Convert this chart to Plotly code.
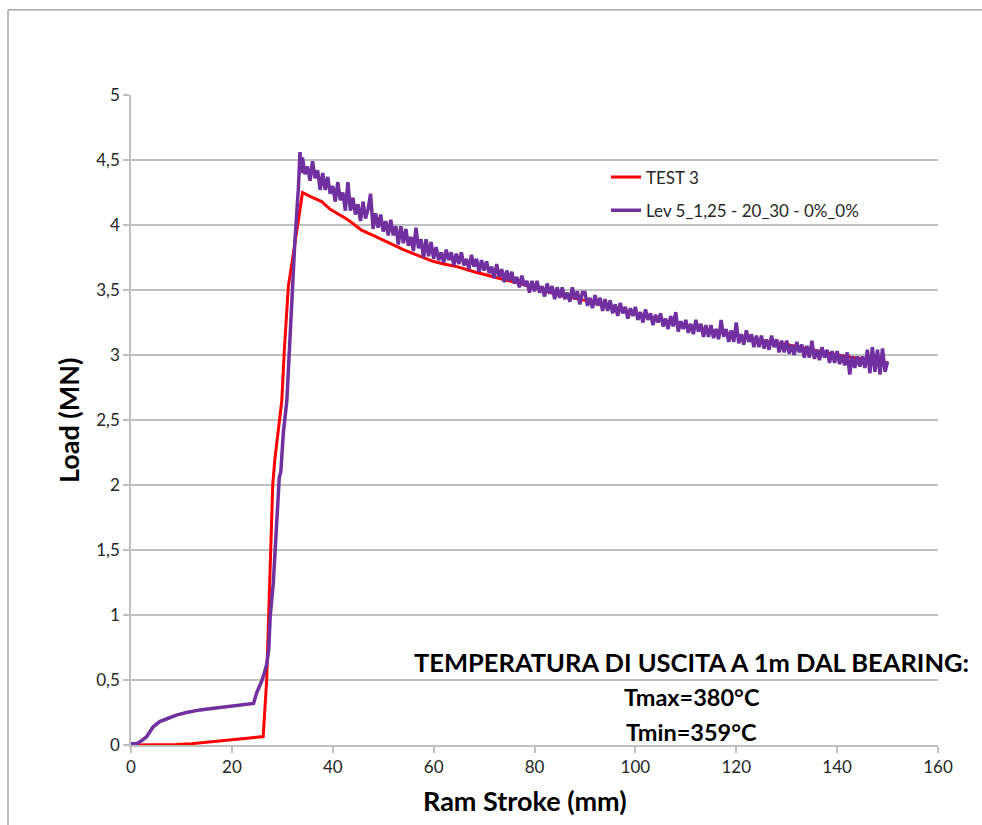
import plotly.graph_objects as go

# ---- data -------------------------------------------------------------
# TEST 3 (measured press load)
stroke_test3 = [0, 3, 6, 9, 12, 15, 18, 21, 24, 26.2, 26.9, 27.3, 27.7, 28.1,
                28.5, 29.4, 29.9, 30.4, 31.2, 32.2, 33.2, 34.0, 35.5, 37.8,
                39.5, 41.4, 43.0, 44.7, 45.7, 48.0, 51.3, 54.0, 56.6, 59.9,
                62.0, 64.6, 68, 72, 76, 80, 85, 90, 95, 100, 105, 110, 115,
                120, 125, 130, 135, 140, 145, 150]
load_test3 = [0, 0, 0, 0.004, 0.010, 0.020, 0.032, 0.045, 0.056, 0.065, 0.50,
              1.00, 1.50, 2.00, 2.19, 2.50, 2.65, 3.04, 3.53, 3.78, 4.04, 4.25,
              4.22, 4.18, 4.12, 4.08, 4.04, 3.99, 3.96, 3.92, 3.86, 3.81, 3.77,
              3.72, 3.70, 3.68, 3.64, 3.60, 3.56, 3.52, 3.46, 3.42, 3.37, 3.32,
              3.27, 3.23, 3.19, 3.15, 3.11, 3.08, 3.04, 3.00, 2.97, 2.94]

# Lev 5 simulation: upsetting / breakthrough phase
stroke_lev_ramp = [0, 1.1, 2.0, 3.1, 4.4, 5.7, 7.0, 9.0, 11.0, 13.7, 16.0, 18.0,
                   20.3, 22.0, 23.9, 24.3, 24.9, 25.4, 25.9, 26.4, 26.9, 27.3,
                   27.6, 28.2, 28.5, 28.9, 29.2, 29.4, 29.7, 30.2, 30.9, 31.4,
                   32.0, 32.5, 33.2, 33.5, 33.8]
load_lev_ramp = [0.01, 0.01, 0.03, 0.064, 0.14, 0.18, 0.20, 0.23, 0.25, 0.27,
                 0.28, 0.29, 0.30, 0.31, 0.315, 0.32, 0.40, 0.44, 0.49, 0.55,
                 0.62, 0.73, 0.99, 1.24, 1.45, 1.76, 2.00, 2.06, 2.10, 2.40,
                 2.65, 3.04, 3.50, 3.88, 4.29, 4.56, 4.40]

# Lev 5 simulation: steady-state extrusion (noisy solver output)
stroke_lev_extr = [
    34.0, 34.5, 35.0, 35.5, 36.0, 36.5, 37.0, 37.5, 38.0, 38.5,
    39.0, 39.5, 40.0, 40.5, 41.0, 41.5, 42.0, 42.5, 43.0, 43.5,
    44.0, 44.5, 45.0, 45.5, 46.0, 46.5, 47.0, 47.5, 48.0, 48.5,
    49.0, 49.5, 50.0, 50.5, 51.0, 51.5, 52.0, 52.5, 53.0, 53.5,
    54.0, 54.5, 55.0, 55.5, 56.0, 56.5, 57.0, 57.5, 58.0, 58.5,
    59.0, 59.5, 60.0, 60.5, 61.0, 61.5, 62.0, 62.5, 63.0, 63.5,
    64.0, 64.5, 65.0, 65.5, 66.0, 66.5, 67.0, 67.5, 68.0, 68.5,
    69.0, 69.5, 70.0, 70.5, 71.0, 71.5, 72.0, 72.5, 73.0, 73.5,
    74.0, 74.5, 75.0, 75.5, 76.0, 76.5, 77.0, 77.5, 78.0, 78.5,
    79.0, 79.5, 80.0, 80.5, 81.0, 81.5, 82.0, 82.5, 83.0, 83.5,
    84.0, 84.5, 85.0, 85.5, 86.0, 86.5, 87.0, 87.5, 88.0, 88.5,
    89.0, 89.5, 90.0, 90.5, 91.0, 91.5, 92.0, 92.5, 93.0, 93.5,
    94.0, 94.5, 95.0, 95.5, 96.0, 96.5, 97.0, 97.5, 98.0, 98.5,
    99.0, 99.5, 100.0, 100.5, 101.0, 101.5, 102.0, 102.5, 103.0, 103.5,
    104.0, 104.5, 105.0, 105.5, 106.0, 106.5, 107.0, 107.5, 108.0, 108.5,
    109.0, 109.5, 110.0, 110.5, 111.0, 111.5, 112.0, 112.5, 113.0, 113.5,
    114.0, 114.5, 115.0, 115.5, 116.0, 116.5, 117.0, 117.5, 118.0, 118.5,
    119.0, 119.5, 120.0, 120.5, 121.0, 121.5, 122.0, 122.5, 123.0, 123.5,
    124.0, 124.5, 125.0, 125.5, 126.0, 126.5, 127.0, 127.5, 128.0, 128.5,
    129.0, 129.5, 130.0, 130.5, 131.0, 131.5, 132.0, 132.5, 133.0, 133.5,
    134.0, 134.5, 135.0, 135.5, 136.0, 136.5, 137.0, 137.5, 138.0, 138.5,
    139.0, 139.5, 140.0, 140.5, 141.0, 141.5, 142.0, 142.5, 143.0, 143.5,
    144.0, 144.5, 145.0, 145.5, 146.0, 146.5, 147.0, 147.5, 148.0, 148.5,
    149.0, 149.5, 150.0]
load_lev_extr = [
    4.52, 4.39, 4.45, 4.34, 4.49, 4.36, 4.42, 4.27, 4.40, 4.27,
    4.37, 4.24, 4.30, 4.18, 4.33, 4.19, 4.25, 4.11, 4.33, 4.11,
    4.21, 4.08, 4.16, 4.03, 4.18, 4.05, 4.12, 4.24, 3.97, 4.09,
    3.98, 4.08, 3.95, 4.03, 3.92, 4.04, 3.92, 3.99, 3.85, 3.99,
    3.86, 3.97, 3.84, 3.91, 3.80, 3.98, 3.82, 3.89, 3.75, 3.89,
    3.76, 3.87, 3.74, 3.83, 3.73, 3.79, 3.71, 3.81, 3.73, 3.79,
    3.69, 3.78, 3.70, 3.79, 3.69, 3.74, 3.66, 3.77, 3.68, 3.74,
    3.64, 3.73, 3.65, 3.72, 3.63, 3.68, 3.59, 3.70, 3.60, 3.66,
    3.56, 3.65, 3.57, 3.64, 3.55, 3.60, 3.52, 3.61, 3.53, 3.57,
    3.48, 3.57, 3.49, 3.57, 3.48, 3.53, 3.45, 3.55, 3.47, 3.53,
    3.43, 3.52, 3.44, 3.52, 3.43, 3.48, 3.41, 3.52, 3.43, 3.49,
    3.39, 3.48, 3.48, 3.38, 3.44, 3.36, 3.46, 3.38, 3.44, 3.34,
    3.43, 3.34, 3.42, 3.32, 3.39, 3.30, 3.40, 3.32, 3.37, 3.28,
    3.36, 3.30, 3.37, 3.27, 3.33, 3.25, 3.35, 3.27, 3.32, 3.23,
    3.31, 3.25, 3.32, 3.22, 3.28, 3.20, 3.30, 3.22, 3.33, 3.18,
    3.26, 3.20, 3.27, 3.17, 3.24, 3.16, 3.27, 3.18, 3.24, 3.14,
    3.23, 3.14, 3.23, 3.13, 3.20, 3.12, 3.27, 3.14, 3.20, 3.10,
    3.19, 3.10, 3.25, 3.09, 3.16, 3.08, 3.19, 3.10, 3.16, 3.06,
    3.15, 3.06, 3.15, 3.05, 3.12, 3.04, 3.15, 3.06, 3.12, 3.02,
    3.11, 3.02, 3.11, 3.01, 3.08, 3.00, 3.10, 3.02, 3.08, 2.98,
    3.07, 2.98, 3.11, 2.97, 3.04, 2.96, 3.06, 2.98, 3.04, 2.94,
    3.03, 2.94, 3.03, 2.93, 3.00, 2.92, 3.02, 2.85, 2.99, 2.90,
    2.99, 2.91, 2.99, 2.90, 3.04, 2.86, 3.06, 2.87, 3.04, 2.85,
    3.05, 2.87, 2.95]

x_ticks = [0, 20, 40, 60, 80, 100, 120, 140, 160]
y_ticks = [0, 0.5, 1, 1.5, 2, 2.5, 3, 3.5, 4, 4.5, 5]

name_test = "TEST 3"
name_lev = "Lev 5_1,25 - 20_30 - 0%_0%"
note_lines = ["TEMPERATURA DI USCITA A 1m DAL BEARING:", "Tmax=380°C", "Tmin=359°C"]

# ---- figure -----------------------------------------------------------
FONT = "Lato, 'Open Sans', sans-serif"
GRID = "#bfbfbf"
TEXT = "#262626"

fig = go.Figure()
fig.add_trace(go.Scatter(
    x=stroke_test3, y=load_test3, mode="lines", name=name_test,
    legendgroup="a", line=dict(color="#ff0000", width=3)))
fig.add_trace(go.Scatter(
    x=stroke_lev_ramp + stroke_lev_extr, y=load_lev_ramp + load_lev_extr,
    mode="lines", name=name_lev, legendgroup="b",
    line=dict(color="#7030a0", width=3.5)))

fig.update_layout(
    width=982, height=825,
    margin=dict(l=131, r=44, t=95, b=80),
    paper_bgcolor="white", plot_bgcolor="white",
    separators=",.",
    font=dict(family=FONT, color=TEXT),
    showlegend=True,
    legend=dict(
        x=0.5886, y=0.9008, xanchor="left", yanchor="top",
        font=dict(size=17, family=FONT, color=TEXT),
        bgcolor="rgba(0,0,0,0)", traceorder="grouped", tracegroupgap=8,
        itemwidth=30,
    ),
)

fig.update_xaxes(
    range=[0, 160], tickvals=x_ticks, showgrid=False,
    showline=True, linecolor=GRID, linewidth=1.5,
    ticks="outside", ticklen=6, tickcolor=GRID, tickwidth=1.5,
    tickfont=dict(size=17, family=FONT, color=TEXT),
    zeroline=False,
)
fig.update_yaxes(
    range=[0, 5], tickvals=y_ticks,
    showgrid=True, gridcolor=GRID, gridwidth=1.5,
    showline=True, linecolor=GRID, linewidth=1.5,
    ticks="outside", ticklen=6, tickcolor=GRID, tickwidth=1.5,
    tickfont=dict(size=17, family=FONT, color=TEXT),
    zeroline=False,
)

# axis titles
fig.add_annotation(text="<b>Ram Stroke (mm)</b>", xref="paper", yref="paper",
                   x=0.488, y=-0.085, showarrow=False,
                   xanchor="center", yanchor="middle",
                   font=dict(size=27, family=FONT, color="black"))
fig.add_annotation(text="<b>Load (MN)</b>", xref="paper", yref="paper",
                   x=-0.078, y=0.5, showarrow=False, textangle=-90,
                   xanchor="center", yanchor="middle",
                   font=dict(size=27, family=FONT, color="black"))

# exit temperature note
for line_text, ypos, size in zip(note_lines, [0.1277, 0.0738, 0.020], [25.5, 23.5, 23.5]):
    fig.add_annotation(text="<b>" + line_text + "</b>", xref="paper", yref="paper",
                       x=0.695, y=ypos, showarrow=False,
                       xanchor="center", yanchor="middle",
                       font=dict(size=size, family=FONT, color="black"))

# chart frame: top and left edges of the chart area border
frame = dict(color="#a6a6a6", width=1.5)
fig.add_shape(type="line", xref="paper", yref="paper",
              x0=-0.1524, x1=1.2, y0=1.131, y1=1.131, line=frame, layer="below")
fig.add_shape(type="line", xref="paper", yref="paper",
              x0=-0.1524, x1=-0.1524, y0=-0.3, y1=1.131, line=frame, layer="below")

fig.write_html("out.html")
